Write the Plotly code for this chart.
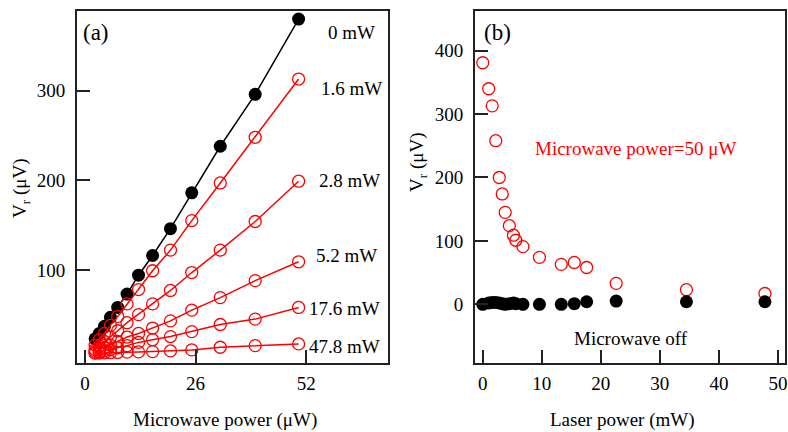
import plotly.graph_objects as go

# ---------------- data ----------------
# Panel (a): V_r vs microwave power for several laser powers
mw_power = [50.2, 40.0, 31.8, 25.1, 20.1, 15.9, 12.6, 9.9, 7.7, 6.0, 4.6, 3.4, 2.4]
vr_0mW = [380, 296, 238, 186, 146, 116, 94, 73, 58, 47, 37, 29, 23]
vr_1p6mW = [313, 248, 197, 155, 122, 99, 78, 62, 48, 38, 29, 22, 16]
vr_2p8mW = [199, 154, 122, 97, 77, 62, 50, 41, 32, 25, 20, 15, 11]
vr_5p2mW = [109, 88, 69, 55, 43, 35, 29, 25, 20, 16, 13, 11, 9]
vr_17p6mW = [58, 45, 39, 31, 25.5, 22, 19, 15.4, 13, 11, 9.6, 8.3, 7.3]
vr_47p8mW = [17.3, 15.4, 13.6, 10.6, 9.5, 8.7, 8.4, 8.1, 7.8, 7.5, 7.3, 7.1, 7.0]
red_series = [vr_1p6mW, vr_2p8mW, vr_5p2mW, vr_17p6mW, vr_47p8mW]
series_labels = ["0 mW", "1.6 mW", "2.8 mW", "5.2 mW", "17.6 mW", "47.8 mW"]

# Panel (b): V_r vs laser power
laser_power = [0, 1.0, 1.6, 2.2, 2.8, 3.3, 3.8, 4.5, 5.2, 5.6, 6.8, 9.6, 13.3, 15.5, 17.6, 22.6, 34.5, 47.8]
vr_mw_on = [381, 340, 313, 258, 200, 174, 145, 124, 109, 101, 91, 74, 63, 66, 58, 33, 23, 17]
vr_mw_off = [0, 2, 3, 3, 2, 1, 0, 1, 2, 1, 0, 0, 0, 1, 4, 5, 4, 4]

xticks_a = [0, 26, 52]
yticks_a = [100, 200, 300]
xticks_b = [0, 10, 20, 30, 40, 50]
yticks_b = [0, 100, 200, 300, 400]

# ---------------- figure ----------------
W, H = 788, 432
FONT = "Liberation Serif, Times New Roman, serif"
RED = "#ff0000"

def px(x):
    return x / W

def py(y):
    return 1 - y / H

fig = go.Figure()

# Panel (a)
fig.add_trace(go.Scatter(
    x=mw_power, y=vr_0mW, mode="lines+markers", xaxis="x", yaxis="y",
    line=dict(color="black", width=1.5),
    marker=dict(color="black", size=13, symbol="circle"),
    showlegend=False))
for ys in red_series:
    fig.add_trace(go.Scatter(
        x=mw_power, y=ys, mode="lines+markers", xaxis="x", yaxis="y",
        line=dict(color=RED, width=1.5),
        marker=dict(color=RED, size=12, symbol="circle-open", line=dict(width=1.3)),
        showlegend=False))

# Panel (b)
fig.add_trace(go.Scatter(
    x=laser_power, y=vr_mw_on, mode="markers", xaxis="x2", yaxis="y2",
    marker=dict(color=RED, size=12, symbol="circle-open", line=dict(width=1.3)),
    showlegend=False))
fig.add_trace(go.Scatter(
    x=laser_power, y=vr_mw_off, mode="markers", xaxis="x2", yaxis="y2",
    marker=dict(color="black", size=13, symbol="circle"),
    showlegend=False))

axis_common = dict(
    showgrid=False, zeroline=False, showline=True, mirror=True,
    linecolor="#222", linewidth=1.5, ticks="inside", ticklen=13,
    tickwidth=1.5, tickcolor="#222", ticklabeloverflow="allow",
    tickfont=dict(family=FONT, size=19, color="black"),
)

fig.update_layout(
    width=W, height=H,
    margin=dict(l=0, r=0, t=0, b=0),
    paper_bgcolor="white", plot_bgcolor="white",
    font=dict(family=FONT, size=19, color="black"),
    xaxis=dict(domain=[px(77), px(389)], range=[-1.9, 71.2], anchor="y",
               tickvals=xticks_a, ticklabelstandoff=2, **axis_common),
    yaxis=dict(domain=[py(363), py(11)], range=[-4, 389], anchor="x",
               tickvals=yticks_a, ticklabelstandoff=6, **axis_common),
    xaxis2=dict(domain=[px(476), px(787)], range=[-1.35, 51.2], anchor="y2",
                tickvals=xticks_b, ticklabelstandoff=2, **axis_common),
    yaxis2=dict(domain=[py(363), py(11)], range=[-92.6, 462.6], anchor="x2",
                tickvals=yticks_b, ticklabelstandoff=6, **axis_common),
)

ann = []
def add_text(text, x, y, size=19, color="black", angle=0, xanchor="center"):
    ann.append(dict(text=text, x=px(x), y=py(y), xref="paper", yref="paper",
                    showarrow=False, xanchor=xanchor, yanchor="middle",
                    textangle=angle, font=dict(family=FONT, size=size, color=color)))

# panel labels
add_text("(a)", 96, 33, size=23)
add_text("(b)", 499, 33, size=23)

# series labels panel (a)
label_pos = [(352, 32), (352, 88), (350, 181), (347, 255), (345, 308), (345, 346)]
for lab, (lx, ly) in zip(series_labels, label_pos):
    add_text(lab, lx, ly)

# panel (b) texts
add_text("Microwave power=50 μW", 637, 148, color=RED)
add_text("Microwave off", 633, 338)

# axis titles
add_text("Microwave power (μW)", 226, 420)
add_text("Laser power (mW)", 624, 420)
add_text("V<sub>r</sub> (μV)", 21, 188, angle=-90)
add_text("V<sub>r</sub> (μV)", 419, 162, angle=-90)

fig.update_layout(annotations=ann)

fig.write_html("out.html")
